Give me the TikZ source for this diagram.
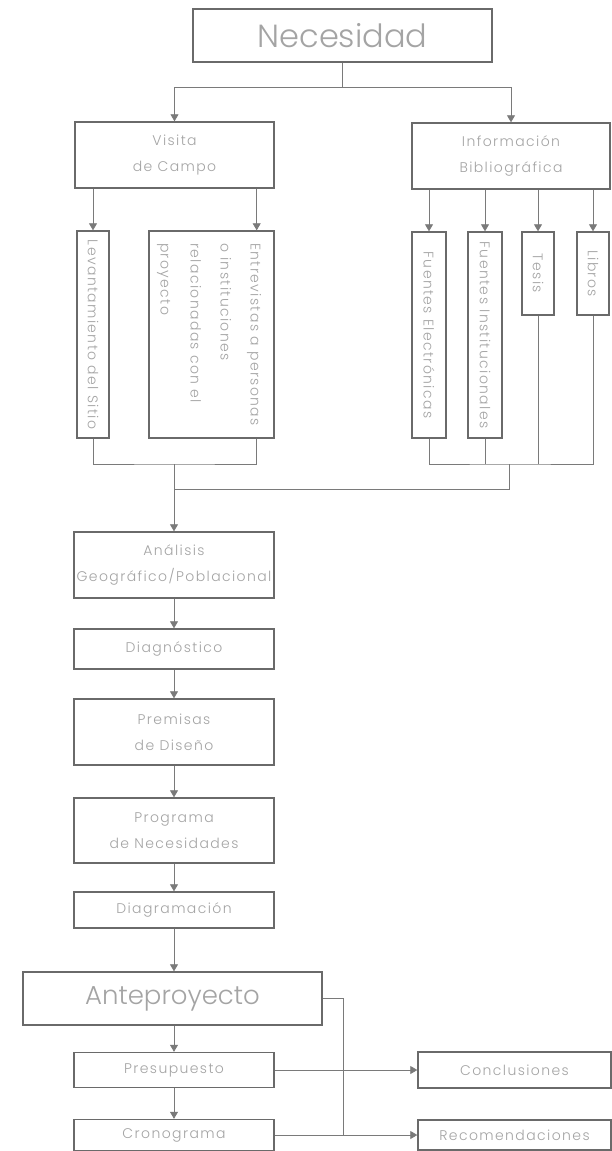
\documentclass[tikz,border=0pt]{standalone}
\usepackage{fontspec}
\usetikzlibrary{arrows.meta}
\IfFontExistsTF{Poppins Light}{\setmainfont{Poppins Light}[LetterSpace=10]}{\setmainfont{Poppins}[LetterSpace=10]}
\newfontfamily\bigfont{Poppins}
\IfFontExistsTF{Poppins Light}{\renewfontfamily\bigfont{Poppins Light}}{}
\definecolor{bordercol}{HTML}{6A6A6A}
\definecolor{linecol}{HTML}{7A7A7A}
\definecolor{textcol}{HTML}{A4A4A4}
\tikzset{
  x=1pt, y=-1pt,
  box/.style={draw=bordercol, line width=1.4pt, fill=white, inner sep=0pt,
    text=textcol, align=center, font=\fontsize{14}{26}\selectfont},
  sz/.style 2 args={minimum width=#1pt, minimum height=#2pt},
  ln/.style={draw=linecol, line width=0.8pt},
  arr/.style={ln, -{Triangle[length=7pt,width=8pt]}},
}
\newcommand{\vtext}[1]{\rotatebox{-90}{#1}}
\begin{document}
\begin{tikzpicture}
\useasboundingbox[fill=white] (0,0) rectangle (611,1151);
% top
\node[box, sz={299}{53}, font=\bigfont\fontsize{32}{36}\selectfont] (nec) at (342.5,35.5) {Necesidad};
\node[box, sz={199}{66}] (vis) at (174.5,155) {Visita\\de Campo};
\node[box, sz={198}{66}] (inf) at (511,156) {Información\\Bibliográfica};
% vertical boxes
\node[box, sz={32}{207}] (lev) at (93,334.5) {\vtext{Levantamiento del Sitio}};
\node[box, sz={125}{207}] (ent) at (211.5,334.5) {\vtext{\fontsize{14}{30}\selectfont\begin{tabular}{@{}l@{}}Entrevistas a personas\\o instituciones\\relacionadas con el\\proyecto\end{tabular}}};
\node[box, sz={34}{206}] (fe) at (429,335) {\vtext{Fuentes Electrónicas}};
\node[box, sz={34}{206}] (fi) at (485,335) {\vtext{Fuentes Institucionales}};
\node[box, sz={32}{83}] (tes) at (538,273.5) {\vtext{Tesis}};
\node[box, sz={32}{83}] (lib) at (593,273.5) {\vtext{Libros}};
% main chain
\node[box, sz={200}{66}] (ana) at (174,565) {Análisis\\Geográfico/Poblacional};
\node[box, sz={200}{40}] (dia) at (174,649) {Diagnóstico};
\node[box, sz={200}{66}] (pre) at (174,732) {Premisas\\de Diseño};
\node[box, sz={200}{65}] (pro) at (174,830.5) {Programa\\de Necesidades};
\node[box, sz={200}{36}] (dgr) at (174,910) {Diagramación};
\node[box, sz={299}{53}, font=\bigfont\fontsize{26}{30}\selectfont] (ant) at (172.5,998.5) {Anteproyecto};
\node[box, sz={200}{35}] (pres) at (174,1070) {Presupuesto};
\node[box, sz={200}{31}] (cro) at (174,1135) {Cronograma};
\node[box, sz={193}{36}] (con) at (514.5,1070) {Conclusiones};
\node[box, sz={193}{30}] (rec) at (514.5,1135) {Recomendaciones};
% connectors top
\coordinate (j0) at (342.5,87);
\draw[ln] (nec.south) -- (j0);
\draw[arr] (j0) -| (vis.north);
\draw[arr] (j0) -| (inf.north);
\coordinate (entin) at ([xshift=-18pt]ent.north east);
\coordinate (entout) at ([xshift=-18pt]ent.south east);
\draw[arr] (vis.south -| lev.north) -- (lev.north);
\draw[arr] (vis.south -| entin) -- (entin);
\draw[arr] (inf.south -| fe.north) -- (fe.north);
\draw[arr] (inf.south -| fi.north) -- (fi.north);
\draw[arr] (inf.south -| tes.north) -- (tes.north);
\draw[arr] (inf.south -| lib.north) -- (lib.north);
% collectors
\coordinate (jl) at (174,464);
\coordinate (jr) at (509,464);
\coordinate (jm) at (509,489);
\draw[ln] (lev.south) |- (jl) -| (entout);
\draw[ln] (fe.south) |- (jr) -| (lib.south);
\draw[ln] (fi.south) -- (fi.south |- jr);
\draw[ln] (tes.south) -- (tes.south |- jr);
\draw[ln] (jr) -- (jm) -- (jm -| jl);
\draw[arr] (jl) -- (ana.north);
% chain
\draw[arr] (ana.south) -- (dia.north);
\draw[arr] (dia.south) -- (pre.north);
\draw[arr] (pre.south) -- (pro.north);
\draw[arr] (pro.south) -- (dgr.north);
\draw[arr] (dgr.south) -- (dgr.south |- ant.north);
\draw[arr] (ant.south -| pres.north) -- (pres.north);
\draw[arr] (pres.south) -- (cro.north);
% right side
\coordinate (kx) at (343,1135);
\draw[ln] (ant.east) -| (kx);
\draw[arr] (pres.east) -- (con.west);
\draw[arr] (cro.east) -- (rec.west);
\end{tikzpicture}
\end{document}
